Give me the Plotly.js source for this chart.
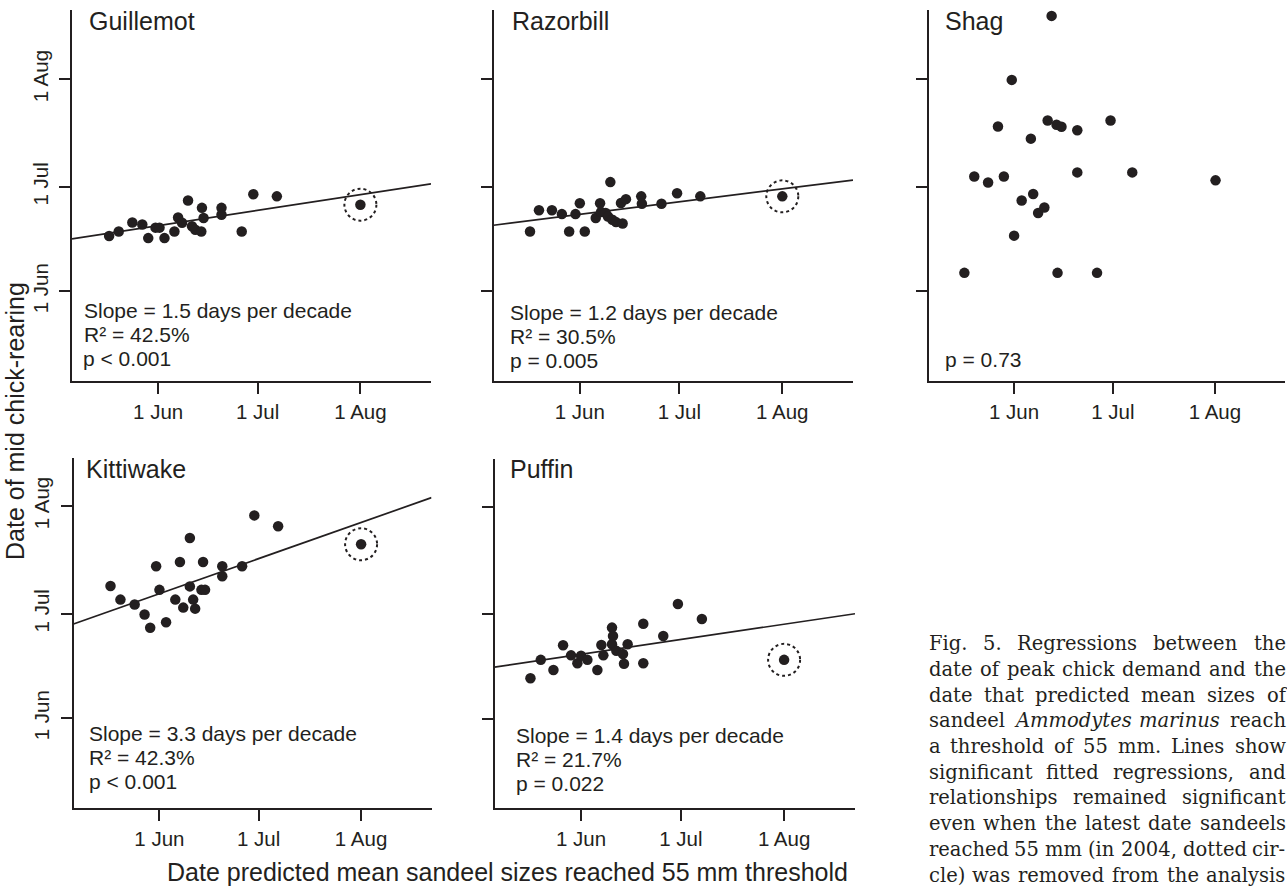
<!DOCTYPE html>
<html>
<head>
<meta charset="utf-8">
<script src="https://cdn.plot.ly/plotly-3.0.1.min.js"></script>
<style>html,body{margin:0;padding:0;background:#fff;}#chart{width:1287px;height:888px;}</style>
</head>
<body>
<div id="chart"></div>
<script>
// ---------- DATA (day of year; 1 Jun = 152, 1 Jul = 182, 1 Aug = 213) ----------
const tickDays   = [152, 182, 213];
const tickLabels = ['1 Jun', '1 Jul', '1 Aug'];

const species = ['Guillemot', 'Razorbill', 'Shag', 'Kittiwake', 'Puffin'];

const guillemotX = [137.2,140.1,144.2,147.2,149.0,151.2,152.4,153.9,156.9,158.0,159.2,161.0,162.2,163.2,165.0,165.2,165.7,171.1,171.1,177.2,180.7,187.8,213.0];
const guillemotY = [167.9,169.2,171.8,171.2,167.3,170.3,170.3,167.3,169.2,173.2,171.7,178.1,170.7,169.7,169.2,176.0,173.1,176.0,174.0,169.2,179.9,179.3,176.9];

const razorbillX = [137.0,139.7,143.6,146.6,148.8,150.7,152.0,153.5,156.8,158.1,158.4,159.8,161.2,160.5,161.8,162.9,164.9,164.4,165.9,170.5,170.7,176.6,181.3,188.3,213.0];
const razorbillY = [169.2,175.3,175.3,174.2,169.2,174.2,177.3,169.2,173.1,177.3,174.8,174.5,183.4,173.5,172.6,171.9,171.5,177.4,178.5,179.3,177.2,177.2,180.2,179.3,179.3];

const shagX = [163.4,151.3,147.1,157.1,162.2,164.9,166.4,171.2,181.3,139.9,144.1,148.9,171.2,187.9,213.2,154.3,157.8,159.3,161.2,152.0,136.9,165.2,177.2];
const shagY = [231.2,212.8,199.4,195.9,201.1,199.9,199.3,198.3,201.1,185.0,183.3,185.0,186.2,186.2,183.9,178.1,180.0,174.5,176.1,168.0,157.3,157.3,157.3];

const kittiwakeX = [137.2,140.2,144.5,147.5,149.2,151.0,152.0,154.0,156.8,158.2,159.2,161.2,161.2,162.2,162.8,165.2,164.7,165.8,171.0,171.0,177.0,180.7,187.9,213.0];
const kittiwakeY = [190.0,186.1,184.7,181.8,178.0,195.7,188.9,179.6,186.1,196.9,183.8,203.8,189.9,186.1,183.5,196.9,188.9,188.9,195.7,192.8,195.7,210.3,207.2,202.0];

const puffinX = [136.8,139.9,143.7,146.6,149.0,150.9,152.0,153.9,156.9,158.1,158.7,161.3,161.6,161.3,162.6,164.6,166.0,164.9,170.7,170.7,176.7,181.1,188.3,213.0];
const puffinY = [163.6,168.9,166.0,173.1,170.2,167.9,170.1,168.9,166.0,173.2,170.2,178.2,175.8,173.4,171.5,170.6,173.4,167.8,179.3,167.9,175.8,185.0,180.7,168.9];

// fitted regression lines: value at left and right end of the x range (null = no significant fit)
const guillemotFit = [167.1, 182.9];
const razorbillFit = [171.0, 184.0];
const shagFit      = null;
const kittiwakeFit = [179.1, 215.4];
const puffinFit    = [166.8, 182.2];

// year 2004 (latest date) circled: index of that point, null = not circled
const circled = [22, 24, null, 23, 23];

const statsText = [
  ['Slope = 1.5 days per decade', 'R\u00B2 = 42.5%', 'p &lt; 0.001'],
  ['Slope = 1.2 days per decade', 'R\u00B2 = 30.5%', 'p = 0.005'],
  ['p = 0.73'],
  ['Slope = 3.3 days per decade', 'R\u00B2 = 42.3%', 'p &lt; 0.001'],
  ['Slope = 1.4 days per decade', 'R\u00B2 = 21.7%', 'p = 0.022']
];

const xTitle = 'Date predicted mean sandeel sizes reached 55 mm threshold';
const yTitle = 'Date of mid chick-rearing';

const captionLines = [
  'Fig. 5. Regressions between the',
  'date of peak chick demand and the',
  'date that predicted mean sizes of',
  'sandeel <i>Ammodytes</i> <i>marinus</i> reach',
  'a threshold of 55 mm. Lines show',
  'significant fitted regressions, and',
  'relationships remained significant',
  'even when the latest date sandeels',
  'reached 55 mm (in 2004, dotted cir-',
  'cle) was removed from the analysis'
];

// ---------- LAYOUT ----------
const W = 1287, H = 888;
const ink = '#231f20';
const sans = '"Liberation Sans", Arial, sans-serif';
const serif = '"DejaVu Serif", serif';

const xRange = [126.0, 234.3];
const yRangeTop = [126.2, 232.9];
const yRangeBot = [126.2, 226.8];

// panel boxes in px: left, right, top, bottom
const boxes = [
  [72, 431, 10, 381],
  [493.5, 853, 10, 381],
  [928.5, 1285, 10, 381],
  [73.5, 431.5, 458, 808],
  [494.5, 855, 459, 808]
];
const titlePos = [[88, 21], [511, 21.5], [944, 20.5], [85, 468.5], [509, 468.5]];
const statsPos = [
  [82.5, [310.5, 334.5, 358.5]],
  [509, [312.5, 336.5, 360.5]],
  [944, [359.3]],
  [88, [733.5, 757.5, 781.5]],
  [515, [735.5, 759.5, 783.5]]
];

const xs = [guillemotX, razorbillX, shagX, kittiwakeX, puffinX];
const ys = [guillemotY, razorbillY, shagY, kittiwakeY, puffinY];
const fits = [guillemotFit, razorbillFit, shagFit, kittiwakeFit, puffinFit];

const px2x = p => p / W;
const px2y = p => 1 - p / H;

const data = [];
const layout = {
  width: W, height: H,
  margin: {l: 0, r: 0, t: 0, b: 0},
  paper_bgcolor: '#fff', plot_bgcolor: '#fff',
  showlegend: false,
  annotations: [], shapes: []
};

species.forEach((name, i) => {
  const n = i + 1;
  const xa = 'x' + (n === 1 ? '' : n), ya = 'y' + (n === 1 ? '' : n);
  const xk = 'xaxis' + (n === 1 ? '' : n), yk = 'yaxis' + (n === 1 ? '' : n);
  const b = boxes[i];
  const topRow = i < 3;
  const firstCol = (i === 0 || i === 3);
  layout[xk] = {
    domain: [px2x(b[0]), px2x(b[1])], range: xRange, anchor: ya,
    showline: true, linewidth: 2, linecolor: ink, mirror: false,
    ticks: 'outside', ticklen: 11, tickwidth: 2, tickcolor: ink,
    tickvals: tickDays, ticktext: tickLabels, ticklabelstandoff: 0,
    tickfont: {family: sans, size: 20.5, color: ink},
    showgrid: false, zeroline: false, fixedrange: true
  };
  layout[yk] = {
    domain: [px2y(b[3]), px2y(b[2])], range: topRow ? yRangeTop : yRangeBot, anchor: xa,
    showline: true, linewidth: 2, linecolor: ink, mirror: false,
    ticks: 'outside', ticklen: 11, tickwidth: 2, tickcolor: ink,
    tickvals: tickDays, ticktext: tickLabels, tickangle: -90,
    showticklabels: firstCol, ticklabelstandoff: 3,
    tickfont: {family: sans, size: 20.5, color: ink},
    showgrid: false, zeroline: false, fixedrange: true
  };
  if (fits[i]) {
    data.push({
      x: xRange, y: fits[i], xaxis: xa, yaxis: ya, type: 'scatter', mode: 'lines',
      line: {color: ink, width: 1.7}, hoverinfo: 'skip'
    });
  }
  data.push({
    x: xs[i], y: ys[i], xaxis: xa, yaxis: ya, type: 'scatter', mode: 'markers',
    marker: {color: ink, size: 10.5, line: {width: 0}}, cliponaxis: false,
    hoverinfo: 'skip'
  });
  if (circled[i] !== null) {
    const k = circled[i];
    layout.shapes.push({
      type: 'circle', xref: xa, yref: ya, xsizemode: 'pixel', ysizemode: 'pixel',
      xanchor: xs[i][k], yanchor: ys[i][k], x0: -16, x1: 16, y0: -16, y1: 16,
      line: {color: ink, width: 2, dash: 'dot'}
    });
  }
  // panel title
  layout.annotations.push({
    xref: 'paper', yref: 'paper', x: px2x(titlePos[i][0]), y: px2y(titlePos[i][1]),
    xanchor: 'left', yanchor: 'middle', showarrow: false, borderpad: 0,
    text: name, font: {family: sans, size: 25, color: ink}
  });
  // statistics
  statsText[i].forEach((t, j) => {
    layout.annotations.push({
      xref: 'paper', yref: 'paper', x: px2x(statsPos[i][0]), y: px2y(statsPos[i][1][j]),
      xanchor: 'left', yanchor: 'middle', showarrow: false, borderpad: 0,
      text: t, font: {family: sans, size: 21, color: ink}
    });
  });
});

// axis titles
layout.annotations.push({
  xref: 'paper', yref: 'paper', x: px2x(508), y: px2y(872),
  xanchor: 'center', yanchor: 'middle', showarrow: false, borderpad: 0,
  text: xTitle, font: {family: sans, size: 25, color: ink}
});
layout.annotations.push({
  xref: 'paper', yref: 'paper', x: px2x(15), y: px2y(421),
  xanchor: 'center', yanchor: 'middle', showarrow: false, textangle: -90, borderpad: 0,
  text: yTitle, font: {family: sans, size: 25, color: ink}
});

// caption: justified, word by word
(function () {
  const size = 19.5;
  const left = 927.5, right = 1284.5;
  const lastY = 875, lineGap = 25.7;
  const firstY = lastY - (captionLines.length - 1) * lineGap;
  const cv = document.createElement('canvas').getContext('2d');
  captionLines.forEach((line, li) => {
    const words = line.split(' ');
    const widths = words.map(w => {
      const it = /<i>/.test(w);
      cv.font = (it ? 'italic ' : '') + size + 'px "DejaVu Serif"';
      return cv.measureText(w.replace(/<\/?i>/g, '')).width;
    });
    const sum = widths.reduce((a, b) => a + b, 0);
    const gap = words.length > 1 ? (right - left - sum) / (words.length - 1) : 0;
    let xp = left;
    words.forEach((w, wi) => {
      layout.annotations.push({
        xref: 'paper', yref: 'paper', x: px2x(xp), y: px2y(firstY + li * lineGap),
        xanchor: 'left', yanchor: 'middle', showarrow: false, borderpad: 0,
        text: w, font: {family: serif, size: size, color: ink}
      });
      xp += widths[wi] + gap;
    });
  });
})();

Plotly.newPlot('chart', data, layout, {staticPlot: true, displayModeBar: false});
</script>
</body>
</html>
